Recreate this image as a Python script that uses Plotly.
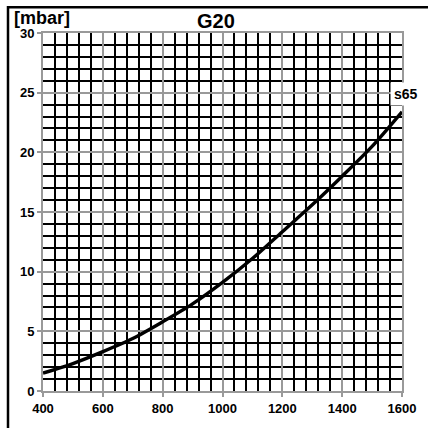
import plotly.graph_objects as go

# Pressure curve for G20 gas, setting s65
flow = [400, 500, 600, 700, 800, 900, 1000, 1100, 1200, 1300, 1400, 1500, 1600]
pressure = [1.5, 2.3, 3.3, 4.4, 5.8, 7.3, 9.1, 11.1, 13.35, 15.6, 18.0, 20.5, 23.4]
x_ticks = [400, 600, 800, 1000, 1200, 1400, 1600]
y_ticks = [0, 5, 10, 15, 20, 25, 30]

FONT = "Liberation Sans, Arial, sans-serif"

fig = go.Figure()
fig.add_trace(go.Scatter(
    x=flow, y=pressure, mode="lines",
    line=dict(color="black", width=3.4, shape="spline", smoothing=0.8),
    hoverinfo="skip", showlegend=False,
))

axis_common = dict(
    showgrid=True, gridcolor="#999999", gridwidth=1.8,
    showline=True, linecolor="#999999", linewidth=1.8, mirror=True,
    ticks="outside", ticklen=4, tickcolor="#999999", tickwidth=1.5,
    tickfont=dict(family=FONT, size=13, color="black"),
    zeroline=False, fixedrange=True,
)

fig.update_xaxes(
    range=[400, 1600], tickvals=x_ticks, ticktext=[f"<b>{v}</b>" for v in x_ticks],
    minor=dict(dtick=40, tick0=400, showgrid=True, gridcolor="black", gridwidth=1.8, ticks=""),
    **axis_common,
)
fig.update_yaxes(
    range=[0, 30], tickvals=y_ticks, ticktext=[f"<b>{v}</b>" for v in y_ticks],
    minor=dict(dtick=1, tick0=0, showgrid=True, gridcolor="black", gridwidth=1.8, ticks=""),
    **axis_common,
)

# outer frame along the left and top edges
W, H, L, R, T, B = 428, 428, 43, 26, 33, 35
pw, ph = W - L - R, H - T - B
def px_x(p):
    return (p - L) / pw
def px_y(p):
    return (H - B - p) / ph

fig.add_annotation(text="<b>[mbar]</b>", xref="paper", yref="paper",
                   x=px_x(12), y=px_y(18), xanchor="left", yanchor="middle",
                   showarrow=False, font=dict(family=FONT, size=18, color="black"))
fig.add_annotation(text="<b>G20</b>", xref="paper", yref="paper",
                   x=px_x(216), y=px_y(21), xanchor="center", yanchor="middle",
                   showarrow=False, font=dict(family=FONT, size=20, color="black"))
fig.add_annotation(text="<b>s65</b>", xref="paper", yref="paper",
                   x=px_x(406), y=px_y(94), xanchor="center", yanchor="middle",
                   showarrow=False, bgcolor="white", borderpad=3,
                   font=dict(family=FONT, size=14, color="black"))

fig.add_shape(type="path", xref="paper", yref="paper",
              path=f"M {px_x(8)} {px_y(440)} L {px_x(8)} {px_y(7)} L {px_x(440)} {px_y(7)}",
              line=dict(color="black", width=2.5))

fig.update_layout(
    width=W, height=H,
    margin=dict(l=L, r=R, t=T, b=B),
    paper_bgcolor="white", plot_bgcolor="white",
    font=dict(family=FONT, color="black"),
)

fig.write_html("out.html", config={"displayModeBar": False})
